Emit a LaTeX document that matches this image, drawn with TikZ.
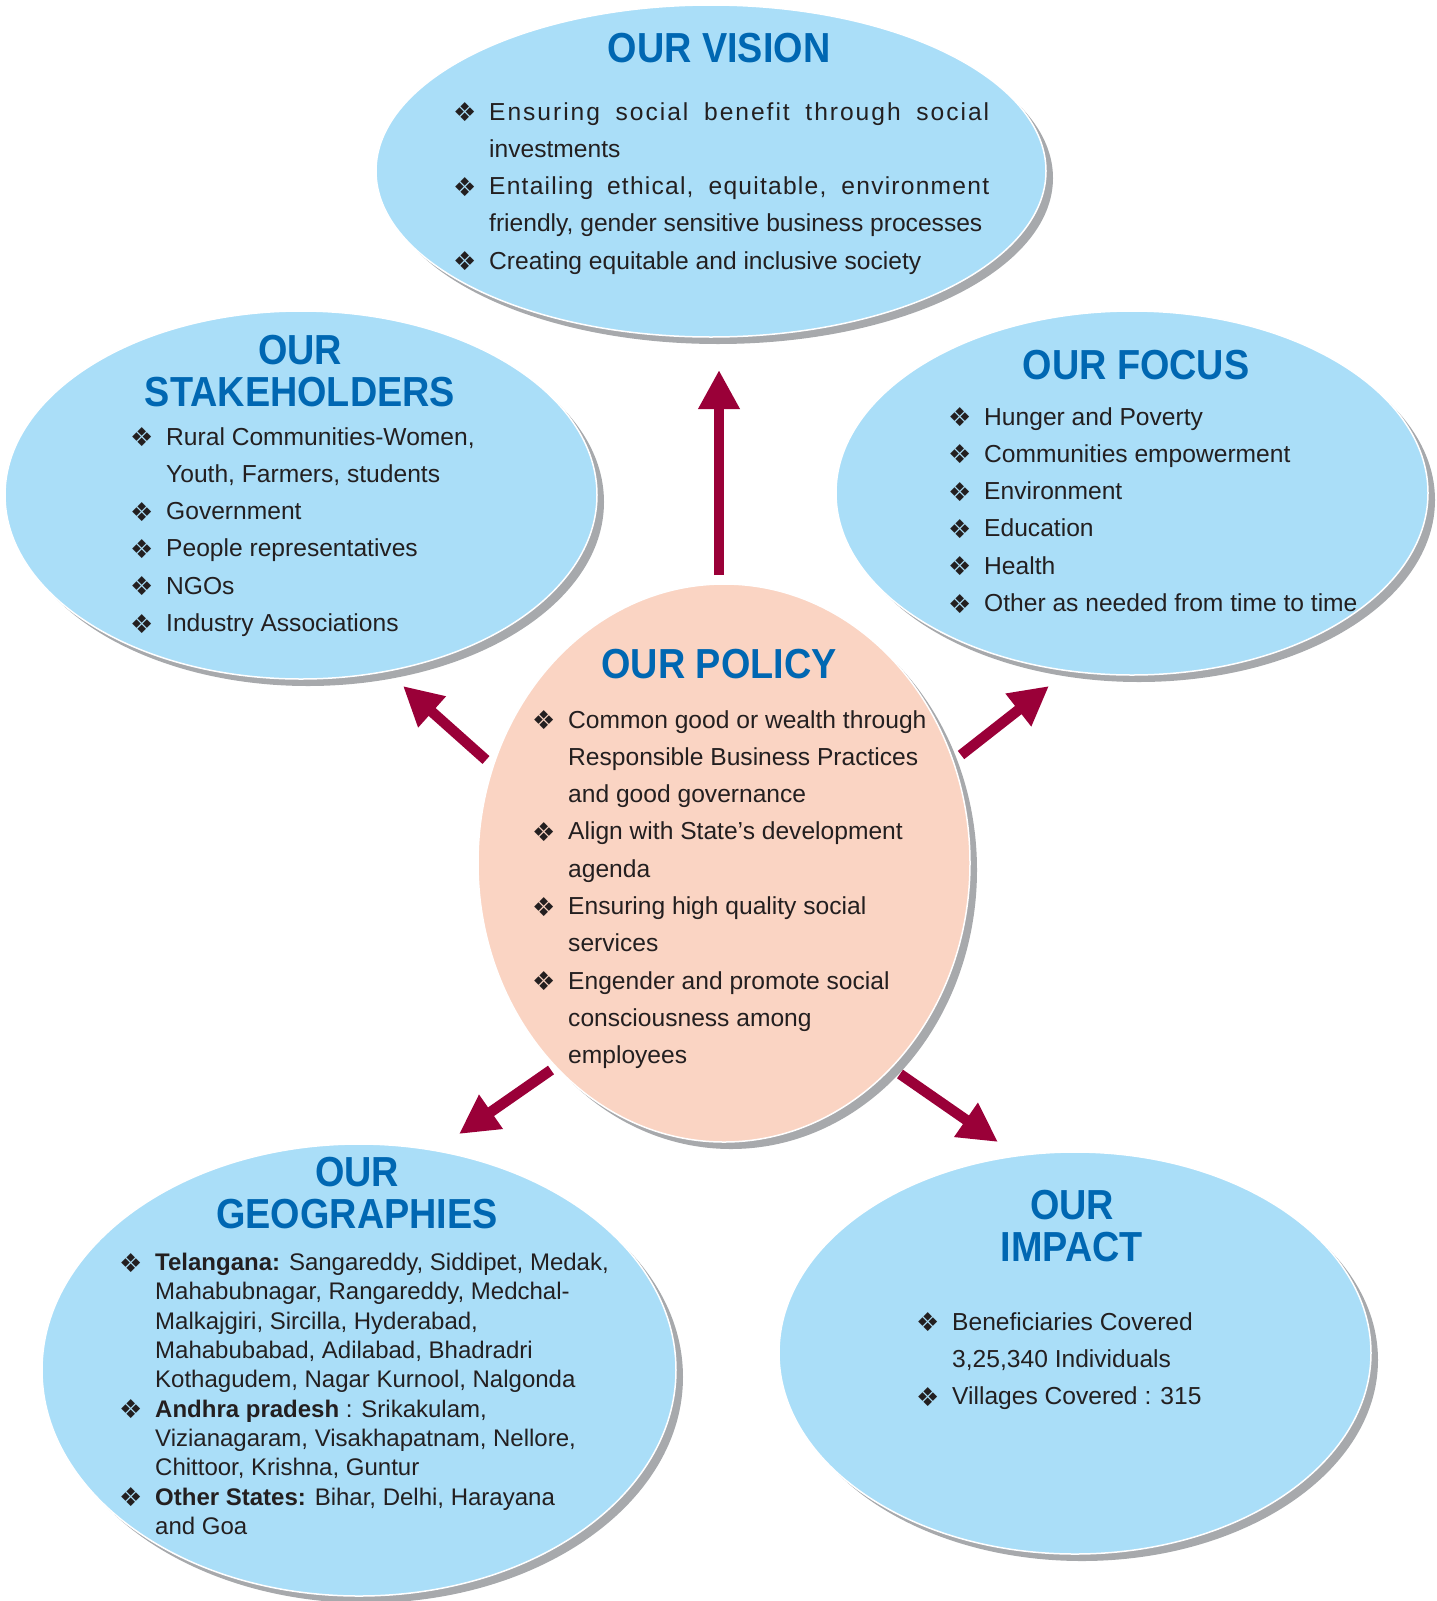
\documentclass[tikz,border=0pt]{standalone}
\usepackage{fontspec}
\setmainfont{Liberation Sans}
\newfontfamily\dingfont{DejaVu Sans}
\newfontfamily\headfont[FakeStretch=0.9]{Liberation Sans}
\newfontfamily\spacedfont[LetterSpace=8]{Liberation Sans}
\newfontfamily\spacedfontb[LetterSpace=5]{Liberation Sans}
\usetikzlibrary{shapes.geometric,shadows,arrows.meta}

\definecolor{bubbleblue}{RGB}{170,222,248}
\definecolor{policypeach}{RGB}{250,212,195}
\definecolor{shadowgray}{RGB}{167,169,172}
\definecolor{headblue}{RGB}{0,103,178}
\definecolor{arrowred}{RGB}{154,0,56}
\definecolor{textdark}{RGB}{35,31,32}

\newcommand{\bul}{\makebox[36pt][l]{\dingfont\fontsize{26}{26}\selectfont\raisebox{-1.5pt}{❖}}}
\newcommand{\ind}{\hspace*{36pt}}

\begin{document}
\begin{tikzpicture}[x=1pt, y=-1pt,
		bubble/.style={ellipse, fill=bubbleblue, draw=white, line width=1.5pt, inner sep=0pt,
			drop shadow={shadow xshift=7pt, shadow yshift=-7pt, fill=shadowgray, opacity=1}},
		head node/.style={align=center, text=headblue, inner sep=0pt,
			font=\headfont\bfseries\fontsize{42}{42}\selectfont},
		list node/.style={anchor=north west, align=left, inner sep=0pt, text=textdark,
			font=\fontsize{24.6}{37.3}\selectfont},
		arrow/.style={draw=arrowred, line width=10.5pt, -{Triangle[width=39pt,length=39pt]}}]
	
	\useasboundingbox (0,0) rectangle (1437,1601);
	
	\node[bubble, minimum width=670pt, minimum height=332pt] (vision) at (711,171) {};
	\node[bubble, minimum width=592pt, minimum height=368pt] (stake) at (301,495) {};
	\node[bubble, minimum width=592pt, minimum height=364pt] (focus) at (1132,493) {};
	\node[bubble, minimum width=634pt, minimum height=452pt] (geo) at (359,1370) {};
	\node[bubble, minimum width=592pt, minimum height=402pt] (impact) at (1075,1353) {};
	\node[bubble, fill=policypeach, minimum width=492pt, minimum height=558pt] (policy) at (724,863) {};
	
	% headings
	\node[head node] (vision head) at (719,48) {OUR VISION};
	\node[head node] (stake head) at (300,371) {OUR\\STAKEHOLDERS};
	\node[head node] (focus head) at (1136,365) {OUR FOCUS};
	\node[head node] (policy head) at (719,664) {OUR POLICY};
	\node[head node] (geo head) at (357,1193) {OUR\\GEOGRAPHIES};
	\node[head node] (impact head) at (1072,1226) {OUR\\IMPACT};
	
	% lists
	\node[list node] (vision list) at (453,102) {%
		\bul\makebox[500pt][s]{\spacedfont Ensuring social benefit through social}\\
		\ind investments\\
		\bul\makebox[500pt][s]{\spacedfontb Entailing ethical, equitable, environment}\\
		\ind friendly, gender sensitive business processes\\
		\bul Creating equitable and inclusive society};
	\node[list node] (stake list) at (130,427) {%
		\bul Rural Communities-Women,\\
		\ind Youth, Farmers, students\\
		\bul Government\\
		\bul People representatives\\
		\bul NGOs\\
		\bul Industry Associations};
	\node[list node] (focus list) at (948,407) {%
		\bul Hunger and Poverty\\
		\bul Communities empowerment\\
		\bul Environment\\
		\bul Education\\
		\bul Health\\
		\bul Other as needed from time to time};
	\node[list node] (policy list) at (532,710) {%
		\bul Common good or wealth through\\
		\ind Responsible Business Practices\\
		\ind and good governance\\
		\bul Align with State’s development\\
		\ind agenda\\
		\bul Ensuring high quality social\\
		\ind services\\
		\bul Engender and promote social\\
		\ind consciousness among\\
		\ind employees};
	\node[list node, font=\fontsize{24}{29.3}\selectfont] (geo list) at (119,1253) {%
		\bul\textbf{Telangana:} Sangareddy, Siddipet, Medak,\\
		\ind Mahabubnagar, Rangareddy, Medchal-\\
		\ind Malkajgiri, Sircilla, Hyderabad,\\
		\ind Mahabubabad, Adilabad, Bhadradri\\
		\ind Kothagudem, Nagar Kurnool, Nalgonda\\
		\bul\textbf{Andhra pradesh} : Srikakulam,\\
		\ind Vizianagaram, Visakhapatnam, Nellore,\\
		\ind Chittoor, Krishna, Guntur\\
		\bul\textbf{Other States:} Bihar, Delhi, Harayana\\
		\ind and Goa};
	\node[list node] (impact list) at (916,1312) {%
		\bul Beneficiaries Covered\\
		\ind 3,25,340 Individuals\\
		\bul Villages Covered : 315};
	
	% arrows from the policy
	\coordinate (up from) at (719,575);
	\coordinate (up to) at (719,370);
	\coordinate (ul from) at (486,760);
	\coordinate (ul to) at (403,686);
	\coordinate (ur from) at (961,755);
	\coordinate (ur to) at (1049,686);
	\coordinate (dl from) at (551,1070);
	\coordinate (dl to) at (459,1134);
	\coordinate (dr from) at (900,1074);
	\coordinate (dr to) at (998,1142);
	
	\draw[arrow] (up from) -- (up to);
	\draw[arrow] (ul from) -- (ul to);
	\draw[arrow] (ur from) -- (ur to);
	\draw[arrow] (dl from) -- (dl to);
	\draw[arrow] (dr from) -- (dr to);
\end{tikzpicture}
\end{document}
